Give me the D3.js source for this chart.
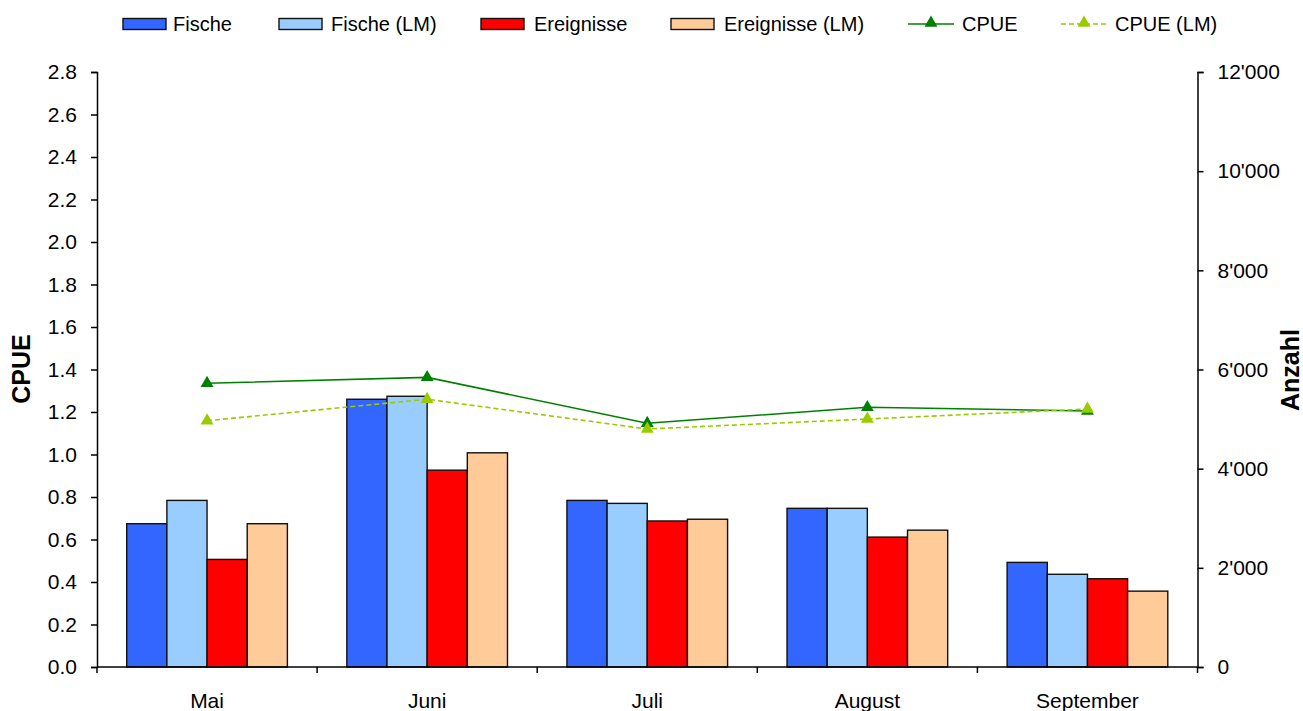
<!DOCTYPE html>
<html>
<head>
<meta charset="utf-8">
<script src="https://cdn.jsdelivr.net/npm/d3@7"></script>
<style>
  html, body { margin: 0; padding: 0; background: #fff; }
  svg { display: block; font-family: "Liberation Sans", Arial, sans-serif; }
</style>
</head>
<body>
<svg id="chart" width="1303" height="711"></svg>
<script>
// ---- data ----
const months = ["Mai", "Juni", "Juli", "August", "September"];
const fische = [2890, 5400, 3360, 3200, 2110];
const fischeLM = [3360, 5460, 3300, 3200, 1870];
const ereignisse = [2170, 3970, 2945, 2620, 1780];
const ereignisseLM = [2890, 4320, 2980, 2760, 1530];
const cpue = [1.335, 1.363, 1.147, 1.222, 1.205];
const cpueLM = [1.159, 1.26, 1.12, 1.167, 1.214];
const leftTicks = [0, 0.2, 0.4, 0.6, 0.8, 1.0, 1.2, 1.4, 1.6, 1.8, 2.0, 2.2, 2.4, 2.6, 2.8];
const rightTicks = [0, 2000, 4000, 6000, 8000, 10000, 12000];

const barSeries = [
  { name: "Fische", values: fische, color: "#3366FF" },
  { name: "Fische (LM)", values: fischeLM, color: "#99CCFF" },
  { name: "Ereignisse", values: ereignisse, color: "#FF0000" },
  { name: "Ereignisse (LM)", values: ereignisseLM, color: "#FFCC99" }
];
const lineSeries = [
  { name: "CPUE", values: cpue, color: "#008000", dash: null },
  { name: "CPUE (LM)", values: cpueLM, color: "#99CC00", dash: "5,3" }
];

// ---- layout ----
const L = 97, R = 1197.5, T = 72, B = 667;
const svg = d3.select("#chart");

const x = d3.scaleBand().domain(months).range([L, R]).padding(0);
const xi = d3.scaleBand().domain(barSeries.map(d => d.name))
  .range([x.bandwidth() * 0.135, x.bandwidth() * 0.865]).padding(0);
const yL = d3.scaleLinear().domain([0, 2.8]).range([B, T]);
const yR = d3.scaleLinear().domain([0, 12000]).range([B, T]);

// ---- bars ----
const gBars = svg.append("g");
barSeries.forEach(s => {
  gBars.selectAll(null).data(months).enter().append("rect")
    .attr("x", (m) => x(m) + xi(s.name))
    .attr("y", (m, i) => yR(s.values[i]))
    .attr("width", xi.bandwidth())
    .attr("height", (m, i) => B - yR(s.values[i]))
    .attr("fill", s.color)
    .attr("stroke", "#111")
    .attr("stroke-width", 1.4);
});

// ---- lines ----
const tri = d3.symbol().type(d3.symbolTriangle).size(72);
lineSeries.forEach(s => {
  const line = d3.line()
    .x((d, i) => x(months[i]) + x.bandwidth() / 2)
    .y(d => yL(d));
  svg.append("path")
    .datum(s.values)
    .attr("d", line)
    .attr("fill", "none")
    .attr("stroke", s.color)
    .attr("stroke-width", 1.6)
    .attr("stroke-dasharray", s.dash);
  svg.selectAll(null).data(s.values).enter().append("path")
    .attr("d", tri)
    .attr("transform", (d, i) => `translate(${x(months[i]) + x.bandwidth() / 2},${yL(d)})`)
    .attr("fill", s.color);
});

// ---- axes ----
const axisStyle = g => {
  g.selectAll(".domain").attr("stroke", "#000").attr("stroke-width", 1.5);
  g.selectAll(".tick line").attr("stroke", "#000").attr("stroke-width", 1.5);
  g.selectAll("text").attr("fill", "#000").style("font-size", "21px")
    .style("font-family", '"Liberation Sans", Arial, sans-serif');
};

const gL = svg.append("g").attr("transform", `translate(${L},0)`)
  .call(d3.axisLeft(yL).tickValues(leftTicks).tickFormat(d3.format(".1f"))
    .tickSize(6).tickSizeOuter(6).tickPadding(14));
axisStyle(gL);

const fmtR = v => d3.format(",")(v).replace(/,/g, "'");
const gR = svg.append("g").attr("transform", `translate(${R},0)`)
  .call(d3.axisRight(yR).tickValues(rightTicks).tickFormat(fmtR)
    .tickSize(6).tickSizeOuter(6).tickPadding(14));
axisStyle(gR);

// x axis: line with ticks at category boundaries
const gX = svg.append("g");
gX.append("line").attr("x1", L).attr("x2", R).attr("y1", B).attr("y2", B)
  .attr("stroke", "#000").attr("stroke-width", 1.5);
const bounds = months.map(m => x(m)).concat([R]);
gX.selectAll(null).data(bounds).enter().append("line")
  .attr("x1", d => d).attr("x2", d => d).attr("y1", B).attr("y2", B + 6)
  .attr("stroke", "#000").attr("stroke-width", 1.5);
gX.selectAll(null).data(months).enter().append("text")
  .attr("x", m => x(m) + x.bandwidth() / 2)
  .attr("y", 708)
  .attr("text-anchor", "middle")
  .style("font-size", "21px")
  .text(m => m);

// axis titles
svg.append("text")
  .attr("transform", "translate(30,369) rotate(-90)")
  .attr("text-anchor", "middle")
  .style("font-size", "25px").style("font-weight", "bold")
  .text("CPUE");
svg.append("text")
  .attr("transform", "translate(1299,370) rotate(-90)")
  .attr("text-anchor", "middle")
  .style("font-size", "25px").style("font-weight", "bold")
  .text("Anzahl");

// ---- legend ----
const legendBars = [
  { s: barSeries[0], x: 123, tx: 173 },
  { s: barSeries[1], x: 279, tx: 331 },
  { s: barSeries[2], x: 481, tx: 534 },
  { s: barSeries[3], x: 671, tx: 724 }
];
const legendLines = [
  { s: lineSeries[0], x: 908, tx: 962 },
  { s: lineSeries[1], x: 1061, tx: 1115 }
];
const ly = 24;
const gLeg = svg.append("g");
legendBars.forEach(d => {
  gLeg.append("rect").attr("x", d.x).attr("y", ly - 5.5).attr("width", 43).attr("height", 11)
    .attr("fill", d.s.color).attr("stroke", "#111").attr("stroke-width", 1.4);
  gLeg.append("text").attr("x", d.tx).attr("y", ly + 7).style("font-size", "20px").text(d.s.name);
});
legendLines.forEach(d => {
  gLeg.append("line").attr("x1", d.x).attr("x2", d.x + 46).attr("y1", ly).attr("y2", ly)
    .attr("stroke", d.s.color).attr("stroke-width", 1.6).attr("stroke-dasharray", d.s.dash);
  gLeg.append("path").attr("d", tri).attr("transform", `translate(${d.x + 23},${ly - 1})`)
    .attr("fill", d.s.color);
  gLeg.append("text").attr("x", d.tx).attr("y", ly + 7).style("font-size", "20px").text(d.s.name);
});
</script>
</body>
</html>
